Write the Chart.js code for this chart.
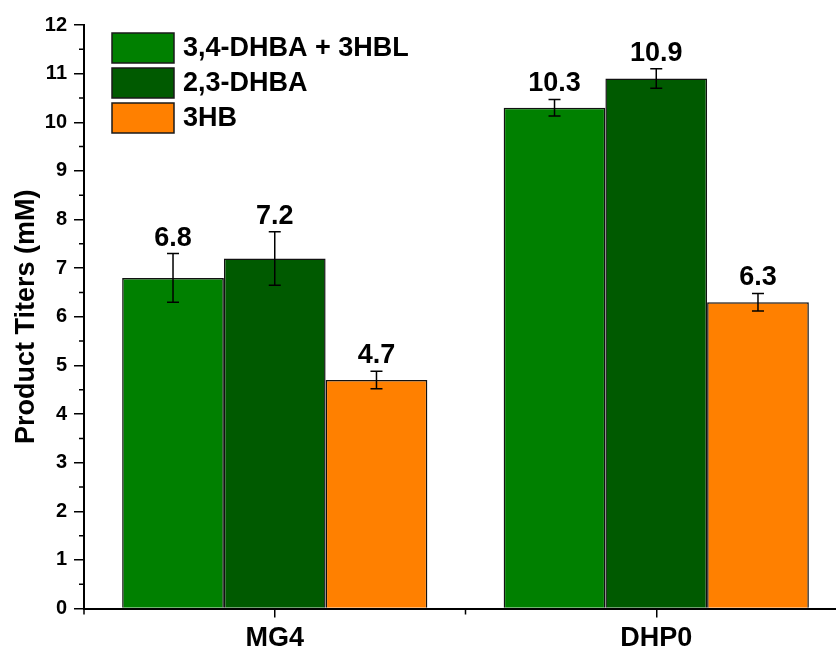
<!DOCTYPE html>
<html>
<head>
<meta charset="utf-8">
<script src="https://cdn.jsdelivr.net/npm/chart.js@4/dist/chart.umd.min.js"></script>
<style>
  html, body { margin: 0; padding: 0; background: #fff; overflow: hidden; }
  #titers { display: block; }
</style>
</head>
<body>
<canvas id="titers" width="850" height="649"></canvas>
<script>
const strains = ['MG4', 'DHP0'];
const seriesNames = ['3,4-DHBA + 3HBL', '2,3-DHBA', '3HB'];
const dhba34 = [6.8, 10.3];
const dhba23 = [7.2, 10.9];
const hb3 = [4.7, 6.3];
const dhba34Err = [0.5, 0.17];
const dhba23Err = [0.55, 0.2];
const hb3Err = [0.18, 0.18];
const yTicks = [0, 1, 2, 3, 4, 5, 6, 7, 8, 9, 10, 11, 12];

const colors = ['#008000', '#005a00', '#ff8000'];
const FONT = 'Arial, "Liberation Sans", sans-serif';

const values = [dhba34, dhba23, hb3];
const errors = [dhba34Err, dhba23Err, hb3Err];

// error bars, value labels, minor ticks and the legend
const extras = {
    id: 'extras',
    afterDatasetsDraw(chart) {
        const ctx = chart.ctx;
        const x = chart.scales.x;
        const y = chart.scales.y;
        ctx.save();
        ctx.strokeStyle = '#000';
        ctx.lineWidth = 1.5;
        chart.data.datasets.forEach((ds, di) => {
            const meta = chart.getDatasetMeta(di);
            meta.data.forEach((bar, i) => {
                const v = ds.data[i];
                const e = errors[di][i];
                const yt = y.getPixelForValue(v + e);
                const yb = y.getPixelForValue(v - e);
                ctx.beginPath();
                ctx.moveTo(bar.x, yt); ctx.lineTo(bar.x, yb);
                ctx.moveTo(bar.x - 6, yt); ctx.lineTo(bar.x + 6, yt);
                ctx.moveTo(bar.x - 6, yb); ctx.lineTo(bar.x + 6, yb);
                ctx.stroke();

                ctx.fillStyle = '#000';
                ctx.font = 'bold 27px ' + FONT;
                ctx.textAlign = 'center';
                ctx.textBaseline = 'alphabetic';
                ctx.fillText(v.toFixed(1), bar.x, yt - 8);
            });
        });

        // minor ticks
        ctx.lineWidth = 1.5;
        ctx.beginPath();
        for (let k = 0; k < 12; k++) {
            const py = y.getPixelForValue(k + 0.5);
            ctx.moveTo(y.right - 5, py); ctx.lineTo(y.right, py);
        }
        const step = x.getPixelForValue(1) - x.getPixelForValue(0);
        for (let i = 0; i <= strains.length; i++) {
            const px = x.getPixelForValue(0) + (i - 0.5) * step;
            ctx.moveTo(px, x.top); ctx.lineTo(px, x.top + 6);
        }
        ctx.stroke();

        // legend
        ctx.font = 'bold 27px ' + FONT;
        ctx.textAlign = 'left';
        ctx.textBaseline = 'middle';
        chart.data.datasets.forEach((ds, di) => {
            const top = 33 + di * 35;
            ctx.fillStyle = ds.backgroundColor;
            ctx.fillRect(112, top, 62, 30);
            ctx.strokeStyle = '#1a1a1a';
            ctx.lineWidth = 1.5;
            ctx.strokeRect(112, top, 62, 30);
            ctx.fillStyle = '#000';
            ctx.fillText(ds.label, 183, top + 16);
        });
        ctx.restore();
    }
};

new Chart(document.getElementById('titers'), {
    type: 'bar',
    data: {
        labels: strains,
        datasets: seriesNames.map((name, i) => ({
            label: name,
            data: values[i],
            backgroundColor: colors[i],
            borderColor: '#111',
            borderWidth: 1.5,
            categoryPercentage: 0.8,
            barPercentage: 1.0
        }))
    },
    options: {
        responsive: false,
        animation: false,
        layout: { padding: { top: 25, right: 3, left: 0, bottom: 0 } },
        plugins: { legend: { display: false }, tooltip: { enabled: false } },
        scales: {
            x: {
                grid: { display: true, drawOnChartArea: false, offset: false, color: '#000', lineWidth: 1.5, tickLength: 9 },
                border: { color: '#000', width: 2 },
                ticks: { color: '#000', padding: 5, font: { family: FONT, size: 27, weight: 'bold' } },
                afterFit(scale) { scale.height = 40.4; }
            },
            y: {
                min: 0,
                max: 12,
                afterBuildTicks(scale) { scale.ticks = yTicks.map(v => ({ value: v })); },
                grid: { drawOnChartArea: false, color: '#000', lineWidth: 1.5, tickLength: 10 },
                border: { color: '#000', width: 2 },
                ticks: { color: '#000', padding: 7, font: { family: FONT, size: 20, weight: 'bold' } },
                title: {
                    display: true,
                    text: 'Product Titers (mM)',
                    color: '#000',
                    padding: { top: 10, bottom: 0 },
                    font: { family: FONT, size: 27, weight: 'bold' }
                },
                afterFit(scale) { scale.width = 84; }
            }
        }
    },
    plugins: [extras]
});
</script>
</body>
</html>
